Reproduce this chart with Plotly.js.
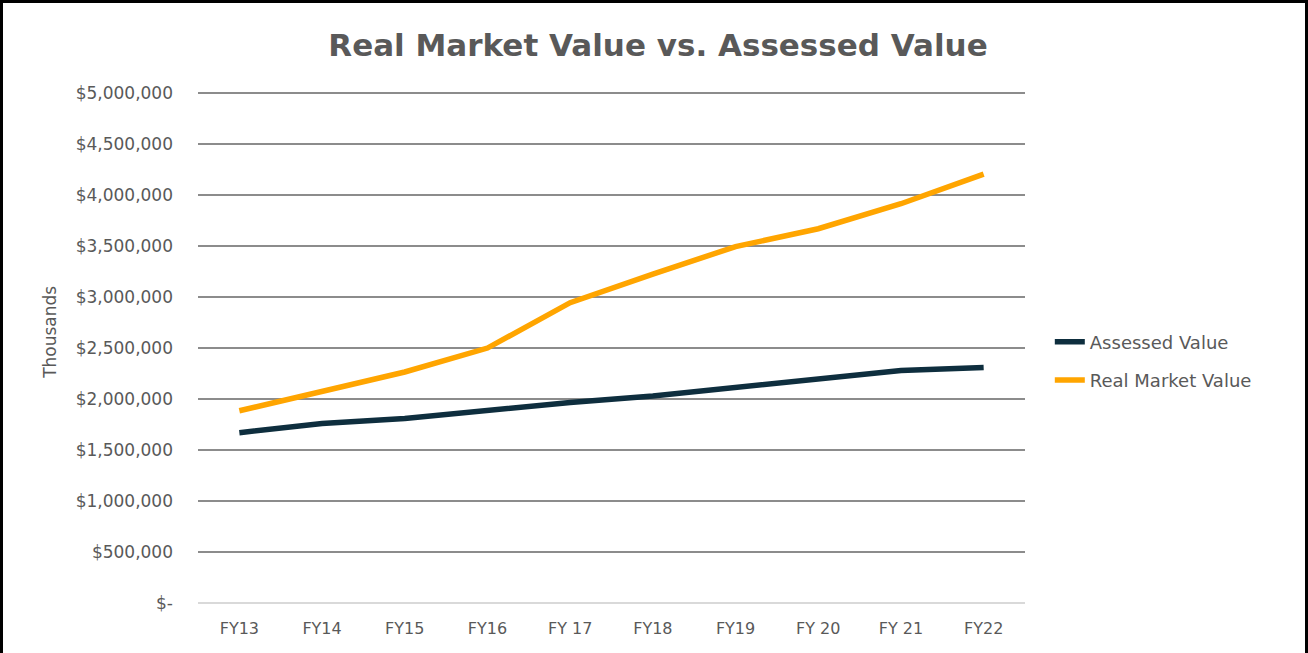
<!DOCTYPE html>
<html>
<head>
<meta charset="utf-8">
<script src="https://cdn.plot.ly/plotly-3.0.1.min.js"></script>
<style>
  html, body { margin: 0; padding: 0; background: #fff; }
  #frame { position: absolute; left: 0; top: 0; width: 1308px; height: 653px; box-sizing: border-box;
           border-top: 3px solid #000; border-left: 3px solid #000; border-right: 3px solid #000; }
  #chart { position: absolute; left: 0; top: 0; width: 1308px; height: 653px; }
</style>
</head>
<body>
<div id="chart"></div>
<div id="frame"></div>
<script>
const categories = ["FY13", "FY14", "FY15", "FY16", "FY 17", "FY18", "FY19", "FY 20", "FY 21", "FY22"];
const assessedValue = [1670000, 1760000, 1810000, 1890000, 1965000, 2030000, 2110000, 2190000, 2280000, 2310000];
const realMarketValue = [1885000, 2075000, 2265000, 2500000, 2945000, 3225000, 3495000, 3670000, 3915000, 4205000];
const yTickVals = [0, 500000, 1000000, 1500000, 2000000, 2500000, 3000000, 3500000, 4000000, 4500000, 5000000];
const yTickText = ["$-", "$500,000", "$1,000,000", "$1,500,000", "$2,000,000", "$2,500,000", "$3,000,000", "$3,500,000", "$4,000,000", "$4,500,000", "$5,000,000"];

const FONT = "'DejaVu Sans', sans-serif";
const TXT = "#595959";

const traces = [
  { type: "scatter", mode: "lines", name: "Assessed Value", legendgroup: "a", x: categories, y: assessedValue,
    line: { color: "#0e2e3e", width: 5.5 } },
  { type: "scatter", mode: "lines", name: "Real Market Value", legendgroup: "b", x: categories, y: realMarketValue,
    line: { color: "#ffa500", width: 5.5 } }
];

const layout = {
  width: 1308, height: 653,
  margin: { l: 198, r: 283, t: 88, b: 50 },
  paper_bgcolor: "#ffffff", plot_bgcolor: "#ffffff",
  font: { family: FONT, color: TXT },
  title: { text: "<b>Real Market Value vs. Assessed Value</b>", x: 658 / 1308, xref: "container", xanchor: "center",
           y: 1 - 45 / 653, yref: "container", yanchor: "middle",
           font: { family: FONT, size: 31, color: TXT } },
  xaxis: { type: "category", range: [-0.5, 9.5], showgrid: false, zeroline: false, showline: false,
           ticks: "", tickfont: { family: FONT, size: 16, color: TXT }, ticklabelstandoff: 14, fixedrange: true },
  yaxis: { range: [0, 5050000], tickvals: yTickVals, ticktext: yTickText, showgrid: true,
           gridcolor: "#8c8c8c", gridwidth: 2, zeroline: true, zerolinecolor: "#d9d9d9", zerolinewidth: 2,
           showline: false, ticks: "", ticklabelstandoff: 24,
           tickfont: { family: FONT, size: 17, color: TXT }, fixedrange: true },
  showlegend: true,
  legend: { x: 1.03, xanchor: "left", y: (603 - 361) / 515, yanchor: "middle", font: { family: FONT, size: 18, color: TXT },
            bgcolor: "rgba(0,0,0,0)", itemwidth: 30, tracegroupgap: 12 },
  annotations: [
    { text: "Thousands", xref: "paper", yref: "paper", x: (50 - 198) / 826, y: (603 - 332) / 515,
      xanchor: "center", yanchor: "middle", textangle: -90, showarrow: false,
      font: { family: FONT, size: 17, color: TXT } }
  ]
};

Plotly.newPlot("chart", traces, layout, { displayModeBar: false, staticPlot: true });
</script>
</body>
</html>
